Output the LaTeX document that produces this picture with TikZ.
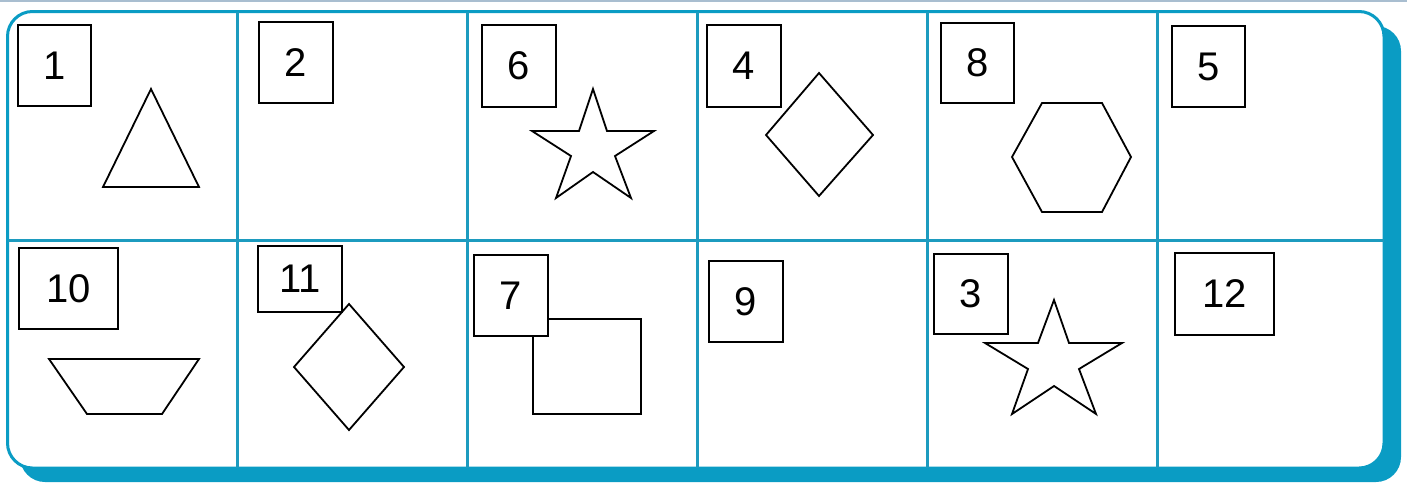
\documentclass[tikz,border=0pt]{standalone}
\usepackage{fontspec}
\setmainfont{Liberation Sans}
\definecolor{frameblue}{HTML}{0A9CC4}
\definecolor{gridblue}{HTML}{1C9BBF}
\definecolor{topgray}{HTML}{A9BED0}
\begin{document}
\begin{tikzpicture}[x=1pt, y=-1pt,
  numbox/.style={draw, line width=1.4pt, fill=white, inner sep=0pt, font=\fontsize{40}{44}\selectfont},
  figline/.style={draw, line width=1.8pt, line join=miter, fill=white},
  gridline/.style={gridblue, line width=3pt}]
\useasboundingbox (0,0) rectangle (1407,482);
% frame with shadow
\fill[topgray] (0,0) rectangle (1407,1.5);
\fill[frameblue, rounded corners=25pt] (20,26) rectangle (1401,482);
\filldraw[fill=white, draw=frameblue, line width=3pt, rounded corners=25pt] (7.5,11.5) rectangle (1384,468);
% grid
\foreach \gx in {237.5,467.5,697.5,927.5,1157.5}
  \draw[gridline] (\gx,11.5) -- (\gx,468);
\draw[gridline] (7.5,240.5) -- (1384,240.5);
% top row shapes
\draw[figline] (151,89) -- (199,187) -- (103,187) -- cycle;
\draw[figline] (593,89) -- (607,131) -- (654,131) -- (615,156) -- (631,198) -- (593,172)
  -- (556,198) -- (571,156) -- (532,131) -- (579,131) -- cycle;
\draw[figline] (819,73) -- (873,135) -- (819,196) -- (766,135) -- cycle;
\draw[figline] (1042,103) -- (1102,103) -- (1131,157) -- (1102,212) -- (1042,212) -- (1012,157) -- cycle;
% bottom row shapes
\draw[figline] (49,359) -- (199,359) -- (162,414) -- (87,414) -- cycle;
\draw[figline] (349,304) -- (404,367) -- (349,430) -- (294,367) -- cycle;
\draw[figline] (533,319) rectangle (641,414);
\draw[figline] (1054,300) -- (1069,343) -- (1122,343) -- (1079,369) -- (1096,414) -- (1054,386)
  -- (1012,414) -- (1028,369) -- (985,343) -- (1038,343) -- cycle;
% number boxes
\node[numbox, minimum width=73, minimum height=81] (n1) at (54.5,65.5) {1};
\node[numbox, minimum width=74, minimum height=81] (n2) at (296,62.5) {2};
\node[numbox, minimum width=74, minimum height=82] (n6) at (519,66) {6};
\node[numbox, minimum width=74, minimum height=82] (n4) at (744,66) {4};
\node[numbox, minimum width=73, minimum height=80] (n8) at (977.5,63) {8};
\node[numbox, minimum width=73, minimum height=81] (n5) at (1208.5,66.5) {5};
\node[numbox, minimum width=99, minimum height=81] (n10) at (68.5,288.5) {10};
\node[numbox, minimum width=84, minimum height=66] (n11) at (300,279) {11};
\node[numbox, minimum width=74, minimum height=81] (n7) at (511,295.5) {7};
\node[numbox, minimum width=74, minimum height=81] (n9) at (746,301.5) {9};
\node[numbox, minimum width=74, minimum height=80] (n3) at (971,294) {3};
\node[numbox, minimum width=99, minimum height=82] (n12) at (1224.5,294) {12};
\end{tikzpicture}
\end{document}
